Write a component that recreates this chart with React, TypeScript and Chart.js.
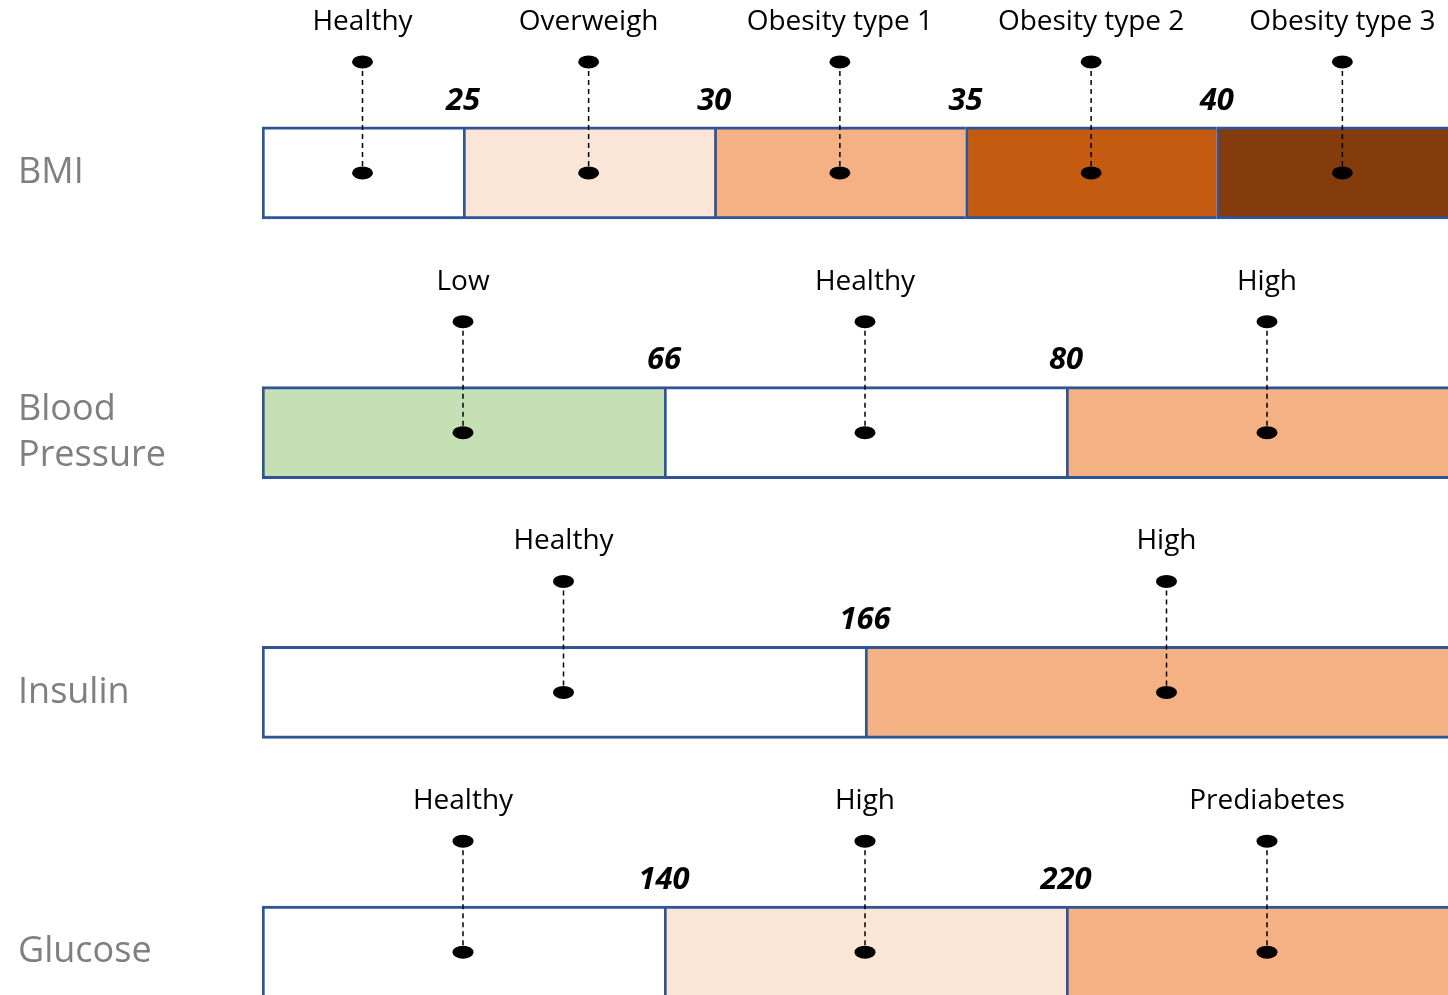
import { useEffect, useRef } from "react";
import { Chart, registerables } from "chart.js";

Chart.register(...registerables);

// Row titles (left axis)
const rowLabels: (string | string[])[] = ["BMI", ["Blood", "Pressure"], "Insulin", "Glucose"];

// BMI ranges
const bmiBands = ["Healthy", "Overweigh", "Obesity type 1", "Obesity type 2", "Obesity type 3"];
const bmiCuts = [25, 30, 35, 40];
const bmiSpans = [4, 5, 5, 5, 5];
const bmiColors = ["#FFFFFF", "#FBE5D6", "#F4B183", "#C55A11", "#843C0C"];

// Blood pressure ranges
const bpBands = ["Low", "Healthy", "High"];
const bpCuts = [66, 80];
const bpSpans = [8, 8, 8];
const bpColors = ["#C5E0B4", "#FFFFFF", "#F4B183"];

// Insulin ranges
const insulinBands = ["Healthy", "High"];
const insulinCuts = [166];
const insulinSpans = [12, 12];
const insulinColors = ["#FFFFFF", "#F4B183"];

// Glucose ranges
const glucoseBands = ["Healthy", "High", "Prediabetes"];
const glucoseCuts = [140, 220];
const glucoseSpans = [8, 8, 8];
const glucoseColors = ["#FFFFFF", "#FBE5D6", "#F4B183"];

const allBands = [bmiBands, bpBands, insulinBands, glucoseBands];
const allCuts = [bmiCuts, bpCuts, insulinCuts, glucoseCuts];
const allSpans = [bmiSpans, bpSpans, insulinSpans, glucoseSpans];
const allColors = [bmiColors, bpColors, insulinColors, glucoseColors];

const FONT = "'Open Sans', 'Noto Sans', sans-serif";
const BORDER = "#2F5597";

// Labels, pins and cut-off values drawn over each stacked segment
const bandAnnotations = {
  id: "bandAnnotations",
  afterDatasetsDraw(chart: any) {
    const ctx: CanvasRenderingContext2D = chart.ctx;
    ctx.save();
    allBands.forEach((bands, r) => {
      bands.forEach((name, k) => {
        const el = chart.getDatasetMeta(k).data[r];
        if (!el) return;
        const { x, base, y, height } = el.getProps(["x", "base", "y", "height"], true);
        const left = Math.min(x, base);
        const right = Math.max(x, base);
        const cx = (left + right) / 2;
        const top = y - height / 2;
        const pinTop = top - 65;

        ctx.fillStyle = "#000";
        ctx.textAlign = "center";
        ctx.textBaseline = "middle";
        ctx.font = `28px ${FONT}`;
        ctx.fillText(name, cx, top - 105);

        ctx.strokeStyle = "#000";
        ctx.lineWidth = 1.5;
        ctx.setLineDash([5, 4]);
        ctx.beginPath();
        ctx.moveTo(cx, pinTop);
        ctx.lineTo(cx, y);
        ctx.stroke();
        ctx.setLineDash([]);

        for (const py of [pinTop, y]) {
          ctx.beginPath();
          ctx.ellipse(cx, py, 10.5, 6.5, 0, 0, Math.PI * 2);
          ctx.fill();
        }

        const cuts = allCuts[r];
        if (k < cuts.length) {
          ctx.font = `italic bold 31px ${FONT}`;
          ctx.fillText(String(cuts[k]), right, top - 26);
        }
      });
    });
    ctx.restore();
  },
};

export default function App() {
  const canvasRef = useRef<HTMLCanvasElement | null>(null);

  useEffect(() => {
    if (!canvasRef.current) return;
    const maxBands = Math.max(...allSpans.map((s) => s.length));
    const datasets = Array.from({ length: maxBands }, (_, k) => ({
      label: `band ${k + 1}`,
      data: allSpans.map((s) => (k < s.length ? s[k] : null)),
      backgroundColor: allColors.map((c) => c[k] ?? "#FFFFFF"),
      borderColor: BORDER,
      borderWidth: { top: 3, bottom: 3, left: 3, right: 0 },
      borderSkipped: false as const,
      barThickness: 92,
    }));

    const chart = new Chart(canvasRef.current, {
      type: "bar",
      data: { labels: rowLabels as any, datasets },
      options: {
        indexAxis: "y",
        animation: false,
        responsive: false,
        layout: { padding: { left: 18, top: 43, right: 0, bottom: 0 } },
        plugins: { legend: { display: false }, tooltip: { enabled: false } },
        scales: {
          x: { type: "linear", stacked: true, min: 0, max: 24, display: false },
          y: {
            stacked: true,
            grid: { display: false },
            border: { display: false },
            ticks: {
              color: "#7F7F7F",
              crossAlign: "far",
              padding: 0,
              font: { family: FONT, size: 36, lineHeight: 1.28 },
            },
            afterFit(scale: any) {
              scale.width = 244;
              scale.paddingTop = 0;
              scale.paddingBottom = 0;
            },
          },
        },
      },
      plugins: [bandAnnotations],
    });
    return () => chart.destroy();
  }, []);

  return (
    <div
      style={{
        position: "fixed",
        left: 0,
        top: 0,
        width: 1448,
        height: 995,
        overflow: "hidden",
        background: "#FFFFFF",
      }}
    >
      <canvas ref={canvasRef} width={1468} height={1082} style={{ display: "block" }} />
    </div>
  );
}
